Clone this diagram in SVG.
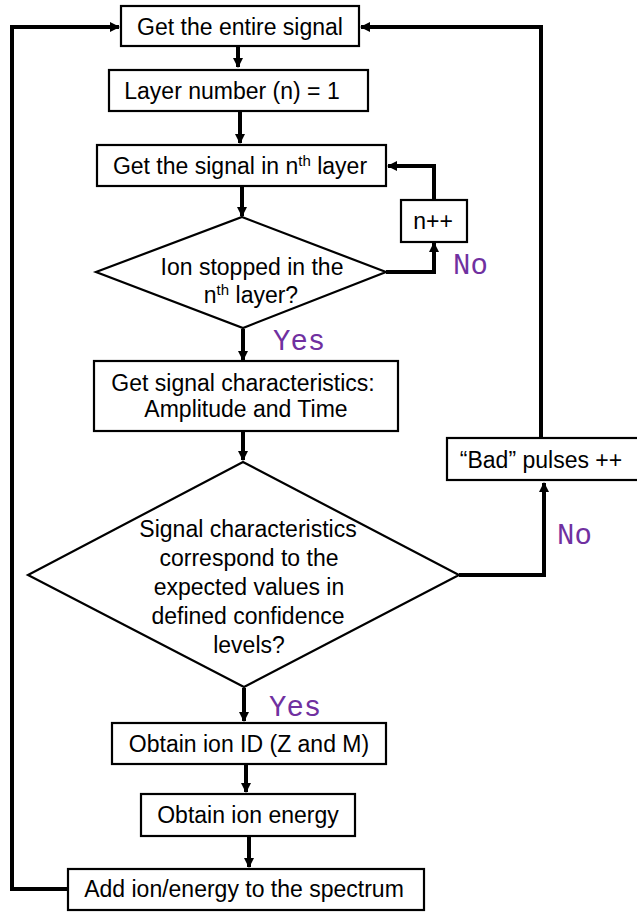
<svg xmlns="http://www.w3.org/2000/svg" width="637" height="919" viewBox="0 0 637 919">
<style>
.box{fill:#fff;stroke:#000;stroke-width:2.2}
.t{font-family:"Liberation Sans",Arial,sans-serif;font-size:23px;fill:#000;text-anchor:middle}
.sup{font-size:15px}
.lbl{font-family:"Liberation Mono","Courier New",monospace;font-size:29px;fill:#7030A0}
.c{fill:none;stroke:#000;stroke-width:4;stroke-linejoin:miter}
</style>
<defs>
<marker id="ah" markerWidth="10" markerHeight="10" refX="9" refY="5" orient="auto" markerUnits="userSpaceOnUse">
<path d="M0,0 L10,5 L0,10 Z" fill="#000"/>
</marker>
</defs>
<g id="connectors">
<path class="c" d="M238,47 V67" marker-end="url(#ah)"/>
<path class="c" d="M240,111 V143" marker-end="url(#ah)"/>
<path class="c" d="M242,187 V216" marker-end="url(#ah)"/>
<path class="c" d="M386,272 H434 V243" marker-end="url(#ah)"/>
<path class="c" d="M434,200 V166 H388" marker-end="url(#ah)"/>
<path class="c" d="M243,329 V360" marker-end="url(#ah)"/>
<path class="c" d="M243,432 V460" marker-end="url(#ah)"/>
<path class="c" d="M459,575 H544 V483" marker-end="url(#ah)"/>
<path class="c" d="M541,438 V27 H361" marker-end="url(#ah)"/>
<path class="c" d="M244,688 V721" marker-end="url(#ah)"/>
<path class="c" d="M246,764 V792" marker-end="url(#ah)"/>
<path class="c" d="M249,836 V867" marker-end="url(#ah)"/>
<path class="c" d="M68,889 H12 V27 H119" marker-end="url(#ah)"/>
</g>
<g id="n1"><rect class="box" x="121" y="6" width="238" height="40"/><text class="t" x="240" y="35">Get the entire signal</text></g>
<g id="n2"><rect class="box" x="109" y="70" width="259" height="41"/><text class="t" x="232" y="99">Layer number (n) = 1</text></g>
<g id="n3"><rect class="box" x="97" y="145" width="289" height="41"/><text class="t" x="240" y="174">Get the signal in n<tspan class="sup" dy="-8">th</tspan><tspan dy="8"> layer</tspan></text></g>
<g id="n4"><rect class="box" x="401" y="200" width="66" height="42"/><text class="t" x="433" y="229">n++</text></g>
<g id="d1"><polygon class="box" points="242,217 386,272 243,328 96,272"/>
<text class="t" x="252" y="275">Ion stopped in the</text>
<text class="t" x="251" y="303">n<tspan class="sup" dy="-8">th</tspan><tspan dy="8"> layer?</tspan></text></g>
<text class="lbl" x="453" y="274">No</text>
<text class="lbl" x="273" y="350">Yes</text>
<g id="n5"><rect class="box" x="94" y="361" width="304" height="70"/>
<text class="t" x="243" y="391">Get signal characteristics:</text>
<text class="t" x="246" y="417">Amplitude and Time</text></g>
<g id="d2"><polygon class="box" points="243,462 459,575 244,687 28,575"/>
<text class="t" x="248" y="537">Signal characteristics</text>
<text class="t" x="249" y="566">correspond to the</text>
<text class="t" x="249" y="595">expected values in</text>
<text class="t" x="248" y="624">defined confidence</text>
<text class="t" x="249" y="653">levels?</text></g>
<g id="n6"><rect class="box" x="447" y="438" width="200" height="42"/><text class="t" x="541" y="468">“Bad” pulses ++</text></g>
<text class="lbl" x="557" y="544">No</text>
<text class="lbl" x="269" y="716">Yes</text>
<g id="n7"><rect class="box" x="112" y="723" width="274" height="41"/><text class="t" x="249" y="752">Obtain ion ID (Z and M)</text></g>
<g id="n8"><rect class="box" x="141" y="794" width="214" height="42"/><text class="t" x="248" y="823">Obtain ion energy</text></g>
<g id="n9"><rect class="box" x="68" y="869" width="356" height="41"/><text class="t" x="244" y="897">Add ion/energy to the spectrum</text></g>
</svg>
